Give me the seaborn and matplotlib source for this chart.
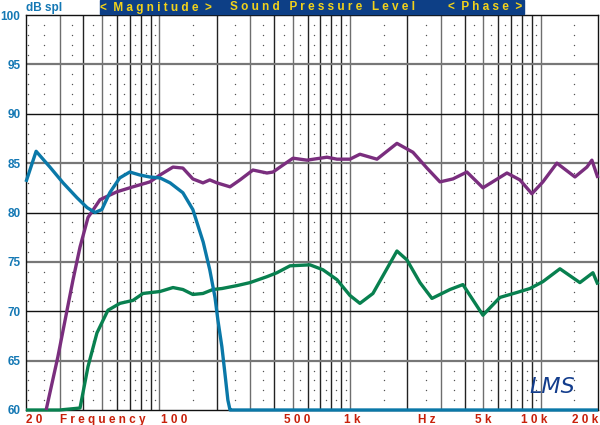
import numpy as np
import pandas as pd
import matplotlib
matplotlib.use("Agg")
import matplotlib.pyplot as plt
from matplotlib.patches import Rectangle
import seaborn as sns

# ---------------- data ----------------
blue_f = [20, 22.6, 26.7, 31.3, 37, 41.8, 46, 50, 55, 62, 70, 79, 89, 101, 114,
          133, 150, 170, 184, 196, 203, 213, 221, 229, 235, 240, 20000]
blue_db = [83.1, 86.2, 84.6, 83.0, 81.5, 80.5, 80.0, 80.3, 82.0, 83.5, 84.1, 83.8,
           83.6, 83.5, 83.0, 82.0, 80.3, 77.0, 74.2, 71.4, 69.1, 66.4, 63.7, 61.0,
           60.0, 60.0, 60.0]

purple_f = [25.5, 29.4, 35.3, 38.4, 42.3, 48.9, 60, 72.8, 89.3, 100.9, 118, 133,
            150, 169.5, 184, 200.7, 235, 265, 310, 367, 395, 445, 503, 595, 758,
            855, 1000, 1128, 1386, 1764, 2140, 2534, 2966, 3468, 4106, 4984, 6660,
            7790, 9000, 10280, 12170, 15140, 17490, 18580, 19980]
purple_db = [60.0, 65.4, 73.2, 76.5, 79.5, 81.3, 82.1, 82.6, 83.1, 83.8, 84.6,
             84.5, 83.4, 83.0, 83.3, 83.0, 82.6, 83.3, 84.3, 84.0, 84.1, 84.8, 85.5,
             85.3, 85.6, 85.4, 85.4, 85.9, 85.4, 87.0, 86.1, 84.5, 83.1, 83.4, 84.1,
             82.5, 84.0, 83.3, 81.9, 83.1, 85.0, 83.6, 84.6, 85.3, 83.5]

green_f = [20, 30, 38.4, 42.3, 47.1, 53.8, 62.2, 72.8, 82.1, 100.9, 118, 133, 150,
           169.5, 191, 213, 256, 299, 367, 414, 485, 617, 722, 855, 1000, 1128,
           1320, 1764, 1990, 2330, 2692, 3346, 3912, 4984, 6118, 7510, 8790, 10280,
           12630, 16070, 18810, 19980]
green_db = [60.0, 60.0, 60.2, 64.4, 67.8, 70.1, 70.8, 71.1, 71.8, 72.0, 72.4, 72.2,
            71.7, 71.8, 72.2, 72.3, 72.6, 72.9, 73.5, 73.9, 74.6, 74.7, 74.2, 73.2,
            71.6, 70.8, 71.8, 76.1, 75.2, 72.9, 71.3, 72.2, 72.7, 69.6, 71.4, 71.9,
            72.3, 73.0, 74.3, 72.9, 73.9, 72.7]

y_ticks = [60, 65, 70, 75, 80, 85, 90, 95, 100]
x_label_pos = [22, 50.6, 119.6, 530, 1030, 2530, 4990, 9290, 20000]
x_labels = ["2 0", "F r e q u e n c y", "1 0 0", "5 0 0", "1 k", "H z", "5 k",
            "1 0 k", "2 0 k"]

# ---------------- style ----------------
sns.set_style("white")
plt.rcParams['font.family'] = ['Liberation Sans', 'DejaVu Sans']

BLUE_TXT = "#1478b4"
RED_TXT = "#c8200a"
C_BLUE = "#0a78a8"
C_PURPLE = "#7a2e7e"
C_GREEN = "#08804f"

fig = plt.figure(figsize=(6, 4.25), dpi=100)
ax = fig.add_axes([26 / 600, 15 / 425, 572 / 600, 395 / 425])
ax.set_xscale("log")
ax.set_xlim(20, 20000)
ax.set_ylim(60, 100)

# grid lines
grid_f = []
for d in [10, 100, 1000, 10000]:
    for m in range(1, 10):
        f = m * d
        if 20 < f < 20000:
            grid_f.append(f)
for f in grid_f:
    lead = str(f)[0]
    col = "#6e6e6e" if lead in "135" else "#222222"
    ax.axvline(f, color=col, lw=1.0, zorder=1)
for y in range(65, 100, 5):
    if y % 10 == 0:
        ax.axhline(y, color="#111111", lw=1.0, zorder=1)
    else:
        ax.axhline(y, color="#777777", lw=1.6, zorder=1)

# dotted minor grid
dx, dy = [], []
for d in [10, 100, 1000, 10000]:
    for m in np.arange(1.5, 10, 1.0):
        f = m * d
        if 20 < f < 20000:
            for y in range(61, 100):
                if y % 5 != 0:
                    dx.append(f)
                    dy.append(y)
for y in range(61, 100):
    if y % 5 != 0:
        dx.append(20.5)
        dy.append(y)
ax.scatter(dx, dy, s=1.0, color="#555555", zorder=1, linewidths=0)

# curves
for f, db, c in [(green_f, green_db, C_GREEN),
                 (purple_f, purple_db, C_PURPLE),
                 (blue_f, blue_db, C_BLUE)]:
    df = pd.DataFrame({"f": f, "dB": db})
    sns.lineplot(data=df, x="f", y="dB", color=c, lw=2.4, ax=ax,
                 estimator=None, sort=False, zorder=3, clip_on=False,
                 solid_joinstyle="round", solid_capstyle="butt")

ax.set_xlabel("")
ax.set_ylabel("")
for s in ax.spines.values():
    s.set_color("#111111")
    s.set_linewidth(1.0)

ax.set_yticks(y_ticks)
ax.set_yticklabels([str(v) for v in y_ticks], color=BLUE_TXT,
                   fontweight="bold", fontsize=8.5)
ax.tick_params(axis="y", length=0, pad=4)
ax.minorticks_off()
ax.set_xticks(x_label_pos)
ax.set_xticklabels(x_labels, color=RED_TXT, fontweight="bold", fontsize=8.5)
ax.tick_params(axis="x", length=0, pad=3, which="both")
ax.xaxis.get_majorticklabels()[-1].set_horizontalalignment("right")

# header banner
fig.patches.append(Rectangle((100 / 600, 1 - 14 / 425), 424 / 600, 14 / 425,
                             transform=fig.transFigure, color="#0d3f86",
                             zorder=5))
for txt, xc in [("<  M a g n i t u d e  >", 156 / 600),
                ("S o u n d   P r e s s u r e   L e v e l", 323 / 600),
                ("<  P h a s e  >", 485 / 600)]:
    fig.text(xc, 1 - 7.5 / 425, txt, color="#f2d21a", fontweight="bold",
             fontsize=8.5, ha="center", va="center", zorder=6)
fig.text(26 / 600, 1 - 7.5 / 425, "dB spl", color=BLUE_TXT, fontweight="bold",
         fontsize=8.5, ha="left", va="center")

# logo
ax.text(0.92, 0.058, "LMS", transform=ax.transAxes, color="#123c8c",
        fontsize=16, fontstyle="italic", family=["DejaVu Sans"],
        ha="center", va="center", zorder=4)

fig.savefig("out.png", dpi=100)
